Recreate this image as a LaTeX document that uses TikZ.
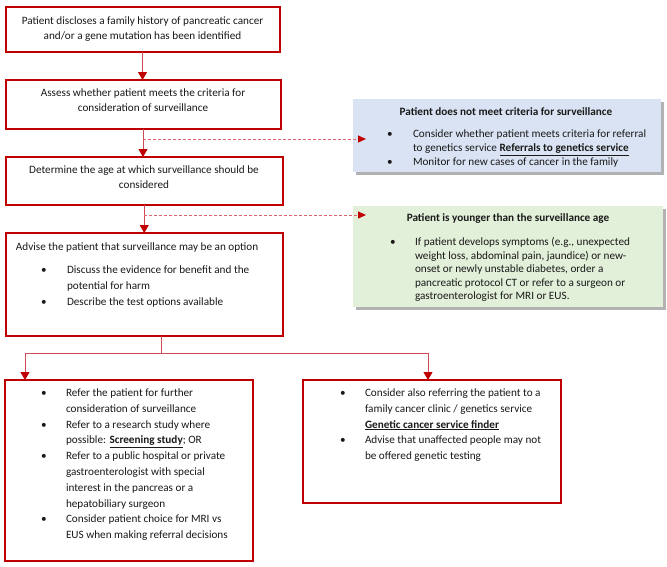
\documentclass[tikz,border=0pt]{standalone}
\usepackage{fontspec}
\setmainfont{Carlito}
\usetikzlibrary{arrows.meta,shadows}
\definecolor{boxred}{RGB}{192,0,0}
\definecolor{linered}{RGB}{205,75,85}
\definecolor{dashred}{RGB}{222,100,112}
\definecolor{bluefill}{RGB}{218,227,243}
\definecolor{greenfill}{RGB}{226,239,217}
\definecolor{txtcol}{RGB}{25,25,25}
\newcommand\blines[6]{% name, anchor, x, y, spacing, list
  \foreach \t [count=\i from 0] in {#6}
    \node[txt,anchor=#2] (#1-\i) at (#3,{#4+\i*#5}) {\t};}
\begin{document}
\begin{tikzpicture}[x=1pt,y=-1pt,
  box/.style={draw=boxred,line width=2pt,fill=white,inner sep=0pt,outer sep=0pt,anchor=north west},
  sidebox/.style={fill=#1,inner sep=0pt,outer sep=0pt,anchor=north west,
     drop shadow={shadow xshift=2.5pt,shadow yshift=-2.5pt,fill=black,opacity=0.3}},
  txt/.style={inner sep=0pt,outer sep=0pt,font=\fontsize{11.2pt}{14pt}\selectfont,text=txtcol},
  conn/.style={draw=linered,line width=1pt,-{Triangle[length=8pt,width=9pt,color=boxred]}},
  plain/.style={draw=linered,line width=1pt},
  dconn/.style={draw=dashred,line width=1pt,dash pattern=on 3pt off 2pt,-{Triangle[length=8pt,width=7pt,color=boxred]}}
]
\useasboundingbox (0,0) rectangle (667,566);

% main boxes
\node[box,minimum width=274pt,minimum height=45pt] (b1) at (5.5,6.5) {};
\node[box,minimum width=275pt,minimum height=48.5pt] (b2) at (5.5,80) {};
\node[box,minimum width=277.5pt,minimum height=47.5pt] (b3) at (5.5,157) {};
\node[box,minimum width=277.5pt,minimum height=102.5pt] (b4) at (5.5,233) {};
\node[box,minimum width=248pt,minimum height=181pt] (b5) at (5,380) {};
\node[box,minimum width=258pt,minimum height=122.5pt] (b6) at (303,380) {};

% side boxes
\node[sidebox=bluefill,minimum width=308pt,minimum height=73pt] (blue) at (353,99) {};
\node[sidebox=greenfill,minimum width=310pt,minimum height=101pt] (green) at (353,206) {};

% texts
\blines{t1}{base}{142.5}{24}{15}{{Patient discloses a family history of pancreatic cancer},{and/or a gene mutation has been identified}}
\blines{t2}{base}{143}{96.5}{15}{{Assess whether patient meets the criteria for},{consideration of surveillance}}
\blines{t3}{base}{144}{173.5}{15}{{Determine the age at which surveillance should be},{considered}}

\node[txt,anchor=base,font=\fontsize{11.2pt}{14pt}\selectfont\bfseries] (bt) at (506,115.5) {Patient does not meet criteria for surveillance};
\blines{bb}{base west}{387}{137.5}{28}{{\textbullet},{\textbullet}}
\blines{bl}{base west}{413}{137.5}{14}{{Consider whether patient meets criteria for referral},{to genetics service \underline{\textbf{Referrals to genetics service}}},{Monitor for new cases of cancer in the family}}

\node[txt,anchor=base,font=\fontsize{11.2pt}{14pt}\selectfont\bfseries] (gt) at (508,221.5) {Patient is younger than the surveillance age};
\node[txt,anchor=base west] (gb) at (390,245.5) {\textbullet};
\blines{gl}{base west}{415}{245.5}{13.5}{{If patient develops symptoms (e.g., unexpected},{weight loss, abdominal pain, jaundice) or new-},{onset or newly unstable diabetes, order a},{pancreatic protocol CT or refer to a surgeon or},{gastroenterologist for MRI or EUS.}}

\node[txt,anchor=base west] (a0) at (16,250.5) {Advise the patient that surveillance may be an option};
\blines{ab}{base west}{41}{273.5}{32}{{\textbullet},{\textbullet}}
\blines{al}{base west}{67}{273.5}{16}{{Discuss the evidence for benefit and the},{potential for harm},{Describe the test options available}}

\blines{fb}{base west}{41}{396.5}{31.6}{{\textbullet},{\textbullet},{\textbullet},{},{\textbullet}}
\blines{fl}{base west}{66}{396.5}{15.8}{{Refer the patient for further},{consideration of surveillance},{Refer to a research study where},{possible: \underline{\textbf{Screening study}}; OR},{Refer to a public hospital or private},{gastroenterologist with special},{interest in the pancreas or a},{hepatobiliary surgeon},{Consider patient choice for MRI vs},{EUS when making referral decisions}}

\blines{sb}{base west}{340}{396.5}{47.4}{{\textbullet},{\textbullet}}
\blines{sl}{base west}{365}{396.5}{15.8}{{Consider also referring the patient to a},{family cancer clinic / genetics service},{\underline{\textbf{Genetic cancer service finder}}},{Advise that unaffected people may not},{be offered genetic testing}}

% connectors
\draw[conn] (b1.south) -- (b1.south |- b2.north);
\draw[conn] (b2.south) -- (b2.south |- b3.north);
\draw[conn] (b3.south) -- (b3.south |- b4.north);
\coordinate (m1) at (143,139);
\coordinate (m2) at (144,215);
\draw[dconn] (m1) -- ([xshift=13pt]m1 -| blue.west);
\draw[dconn] (m2) -- ([xshift=13pt]m2 -| green.west);
\coordinate (split) at (161,353);
\draw[plain] (b4.south -| split) -- (split);
\draw[conn] (split) -| ([xshift=20pt]b5.north west);
\draw[conn] (split) -| ([xshift=-4pt]b6.north);
\end{tikzpicture}
\end{document}
